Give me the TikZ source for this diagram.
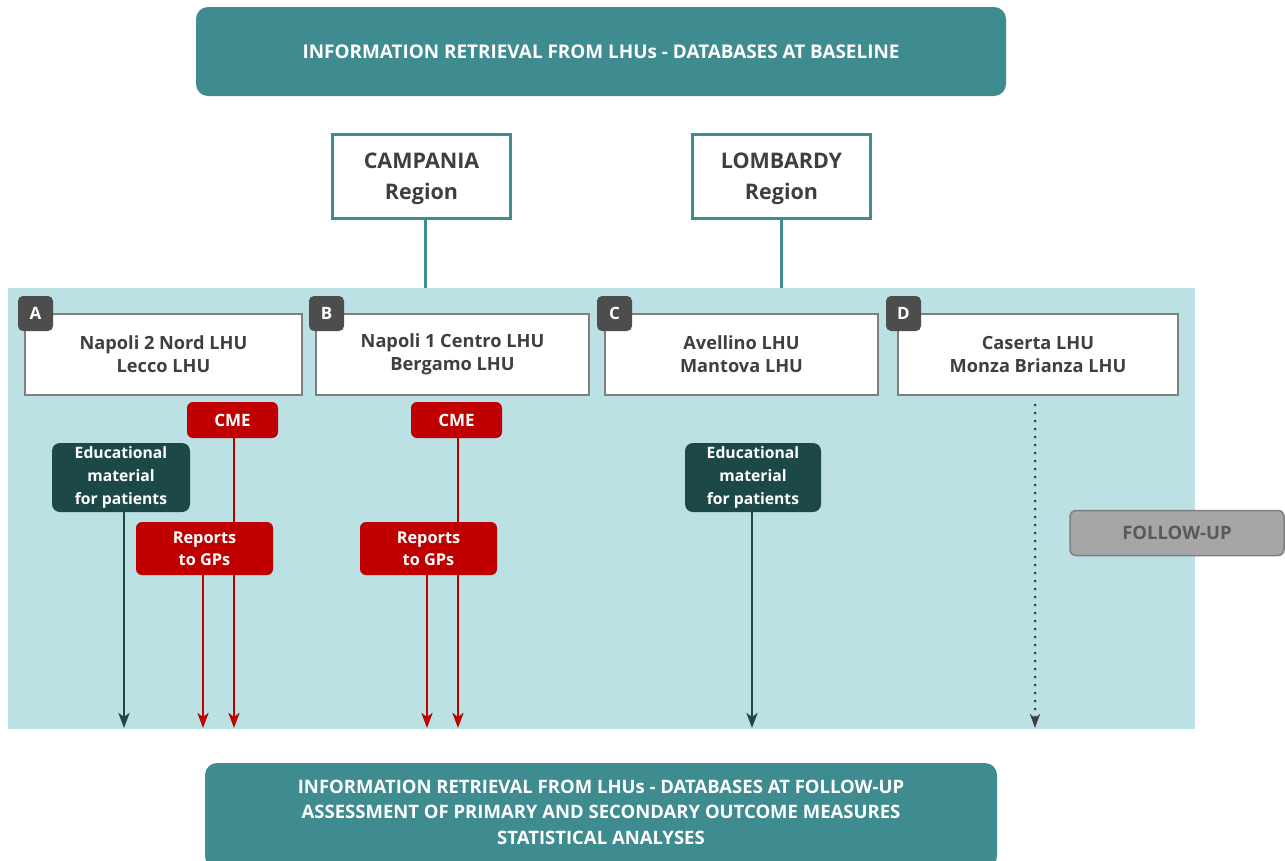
\documentclass[tikz,border=0pt]{standalone}
\usepackage{fontspec}
\setmainfont{Open Sans}
\usetikzlibrary{arrows.meta}
\definecolor{teal1}{HTML}{3E8B90}
\definecolor{panel}{HTML}{BBE1E4}
\definecolor{redA}{HTML}{C00000}
\definecolor{darkedu}{HTML}{1D4848}
\definecolor{txtgray}{HTML}{3F3F3F}
\definecolor{badge}{HTML}{4D4D4D}
\definecolor{fugray}{HTML}{A6A6A6}
\definecolor{fuborder}{HTML}{7F7F7F}
\definecolor{futext}{HTML}{595959}
\tikzset{
  px/.style={x=1pt,y=-1pt},
  bigbox/.style={fill=teal1,rounded corners=12pt},
  regbox/.style={draw=teal1,line width=3pt,fill=white,minimum width=178pt,minimum height=84pt,inner sep=0pt},
  regtext/.style={text=txtgray,font=\bfseries\fontsize{21.5}{31}\selectfont,align=center},
  lhubox/.style={draw=fuborder,line width=1.5pt,fill=white,text=txtgray,font=\bfseries\fontsize{18.2}{23}\selectfont,align=center},
  badgebox/.style={fill=badge,rounded corners=5pt,text=white,font=\bfseries\fontsize{17}{18}\selectfont},
  redbox/.style={fill=redA,rounded corners=6pt,text=white,font=\bfseries\fontsize{16.3}{22}\selectfont,align=center},
  cmebox/.style={redbox,font=\bfseries\fontsize{17}{20}\selectfont},
  edubox/.style={fill=darkedu,rounded corners=8pt,text=white,font=\bfseries\fontsize{15.7}{23}\selectfont,align=center},
  tipA/.style={-{Stealth[length=15pt,width=11pt,inset=4pt]}},
  redarrow/.style={draw=redA,line width=2.8pt,tipA},
  darkarrow/.style={draw=darkedu,line width=2.8pt,tipA},
  dotarrow/.style={draw=txtgray,line width=3pt,line cap=round,dash pattern=on 0pt off 8pt,-{Stealth[length=14pt,width=10pt,inset=4pt,line cap=butt]}},
  regline/.style={draw=teal1,line width=3pt},
}
\begin{document}
\begin{tikzpicture}[px]
\useasboundingbox (0,0) rectangle (1285,860);
% panel
\fill[panel] (8,288) rectangle (1195,729);
% top box
\path[bigbox] (196,7) rectangle (1006,96);
\node[text=white,font=\bfseries\fontsize{18.9}{25}\selectfont] (top) at (601,52) {INFORMATION RETRIEVAL FROM LHUs - DATABASES AT BASELINE};
% regions
\node[regbox] (camp) at (421.5,176.5) {};
\node[regtext] (campt) at (421.5,179) {CAMPANIA\\Region};
\node[regbox] (lomb) at (781.5,176.5) {};
\node[regtext] (lombt) at (781.5,179) {LOMBARDY\\Region};
\coordinate (campend) at (425,288);
\coordinate (lombend) at (781,288);
\draw[regline] (camp.south -| campend) -- (campend);
\draw[regline] (lomb.south -| lombend) -- (lombend);
% LHU boxes
\node[lhubox,minimum width=277pt,minimum height=81pt,inner sep=0pt] (A) at (163.5,354.5) {Napoli 2 Nord LHU\\Lecco LHU};
\node[lhubox,minimum width=273pt,minimum height=81pt,inner sep=0pt] (B) at (452.5,354.5) {Napoli 1 Centro LHU\\Bergamo LHU};
\node[lhubox,minimum width=273pt,minimum height=81pt,inner sep=0pt] (C) at (741.5,354.5) {Avellino LHU\\Mantova LHU};
\node[lhubox,minimum width=280pt,minimum height=81pt,inner sep=0pt] (D) at (1038,354.5) {Caserta LHU\\Monza Brianza LHU};
% badges
\node[badgebox,minimum width=35pt,minimum height=35pt,inner sep=0pt] (bA) at (35.5,313.5) {A};
\node[badgebox,minimum width=35pt,minimum height=35pt,inner sep=0pt] (bB) at (326.5,313.5) {B};
\node[badgebox,minimum width=35pt,minimum height=35pt,inner sep=0pt] (bC) at (614.5,313.5) {C};
\node[badgebox,minimum width=35pt,minimum height=35pt,inner sep=0pt] (bD) at (903.5,313.5) {D};
% bottom coordinates
\coordinate (eA) at (124,728);
\coordinate (rA) at (203,728);
\coordinate (cA) at (234,728);
\coordinate (rB) at (427,728);
\coordinate (cB) at (458,728);
\coordinate (eC) at (752,728);
\coordinate (dD) at (1035,728);
\coordinate (dDs) at (1035,405);
% A group
\node[cmebox,minimum width=91pt,minimum height=36pt,inner sep=0pt] (cmeA) at (232.5,420) {CME};
\draw[redarrow] (cmeA.south -| cA) -- (cA);
\node[edubox,minimum width=138pt,minimum height=69pt,inner sep=0pt] (eduA) at (121,477.5) {Educational\\material\\for patients};
\draw[darkarrow] (eduA.south -| eA) -- (eA);
\node[redbox,minimum width=137pt,minimum height=53pt,inner sep=0pt] (repA) at (204.5,548.5) {Reports\\to GPs};
\draw[redarrow] (repA.south -| rA) -- (rA);
% B group
\node[cmebox,minimum width=91pt,minimum height=36pt,inner sep=0pt] (cmeB) at (456.5,420) {CME};
\draw[redarrow] (cmeB.south -| cB) -- (cB);
\node[redbox,minimum width=137pt,minimum height=53pt,inner sep=0pt] (repB) at (428.5,548.5) {Reports\\to GPs};
\draw[redarrow] (repB.south -| rB) -- (rB);
% C group
\node[edubox,minimum width=136pt,minimum height=69pt,inner sep=0pt] (eduC) at (753,477.5) {Educational\\material\\for patients};
\draw[darkarrow] (eduC.south -| eC) -- (eC);
% D group
\draw[dotarrow] (dDs) -- (dD);
% follow-up
\node[draw=fuborder,line width=1.5pt,fill=fugray,rounded corners=6pt,text=futext,font=\bfseries\fontsize{18.5}{20}\selectfont,minimum width=214pt,minimum height=45pt,inner sep=0pt] (fu) at (1177,533) {FOLLOW-UP};
% bottom box
\path[bigbox] (205,763) rectangle (997,868);
\node[text=white,font=\bfseries\fontsize{18.5}{25.5}\selectfont,align=center] (bot) at (601,812) {INFORMATION RETRIEVAL FROM LHUs - DATABASES AT FOLLOW-UP\\ASSESSMENT OF PRIMARY AND SECONDARY OUTCOME MEASURES\\STATISTICAL ANALYSES};
\end{tikzpicture}
\end{document}
